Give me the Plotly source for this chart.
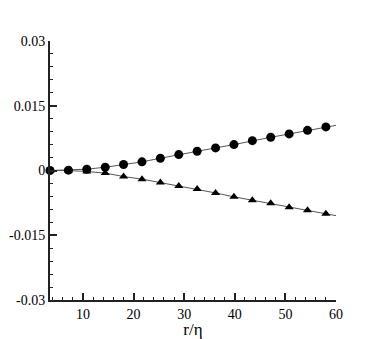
import plotly.graph_objects as go

# separation r/eta of the sampled points
r_eta = [3.48, 7.12, 10.75, 14.39, 18.02, 21.66, 25.29, 28.93,
         32.56, 36.2, 39.83, 43.47, 47.1, 50.74, 54.37, 58.0]

# circles (upper branch) and triangles (lower branch)
upper = [0.0, 0.00008, 0.0003, 0.00076, 0.0014, 0.002, 0.00284, 0.00369,
         0.00445, 0.00524, 0.006, 0.00692, 0.00769, 0.00847, 0.0093, 0.01009]
lower = [0.0, -0.00002, -0.00023, -0.0006, -0.0014, -0.002, -0.0028, -0.0036,
         -0.0043, -0.0052, -0.0061, -0.0069, -0.0076, -0.0085, -0.0092, -0.01]

# thin curves run on to the end of the axis
curve_r = r_eta + [60]
curve_upper = upper + [0.01046]
curve_lower = lower + [-0.01046]

y_ticks = [0.03, 0.015, 0, -0.015, -0.03]
y_labels = ["0.03", "0.015", "0", "-0.015", "-0.03"]
x_ticks = [10, 20, 30, 40, 50, 60]

serif = "'Liberation Serif', 'Times New Roman', serif"

fig = go.Figure()
for cy in (curve_upper, curve_lower):
    fig.add_trace(go.Scatter(x=curve_r, y=cy, mode="lines",
                             line=dict(color="#555555", width=1),
                             showlegend=False, cliponaxis=False))
fig.add_trace(go.Scatter(x=r_eta, y=lower, mode="markers",
                         marker=dict(symbol="triangle-up", size=8, color="black"),
                         showlegend=False, cliponaxis=False))
fig.add_trace(go.Scatter(x=r_eta, y=upper, mode="markers",
                         marker=dict(symbol="circle", size=9, color="black"),
                         showlegend=False, cliponaxis=False))

axis_common = dict(showline=True, linecolor="#222222", linewidth=2,
                   ticks="inside", ticklen=7, tickwidth=2, tickcolor="#222222",
                   showgrid=False, zeroline=False, automargin=False,
                   tickfont=dict(family=serif, size=14, color="black"))

fig.update_xaxes(range=[3.48, 60], tickvals=x_ticks,
                 minor=dict(ticks="inside", ticklen=3, tickwidth=1, dtick=2, tick0=0,
                            tickcolor="#222222"),
                 title=dict(text="r/η", standoff=0,
                            font=dict(family=serif, size=17, color="black")),
                 **axis_common)
fig.update_yaxes(range=[-0.03, 0.03], tickvals=y_ticks, ticktext=y_labels,
                 minor=dict(ticks="inside", ticklen=3, tickwidth=1, dtick=0.003, tick0=0,
                            tickcolor="#222222"),
                 **axis_common)

# page body adds an 8px offset, so the figure is 8px smaller on each side
fig.update_layout(width=374, height=331,
                  margin=dict(l=42, r=46, t=33, b=39),
                  font=dict(family=serif),
                  plot_bgcolor="white", paper_bgcolor="white")

fig.write_html("out.html")
